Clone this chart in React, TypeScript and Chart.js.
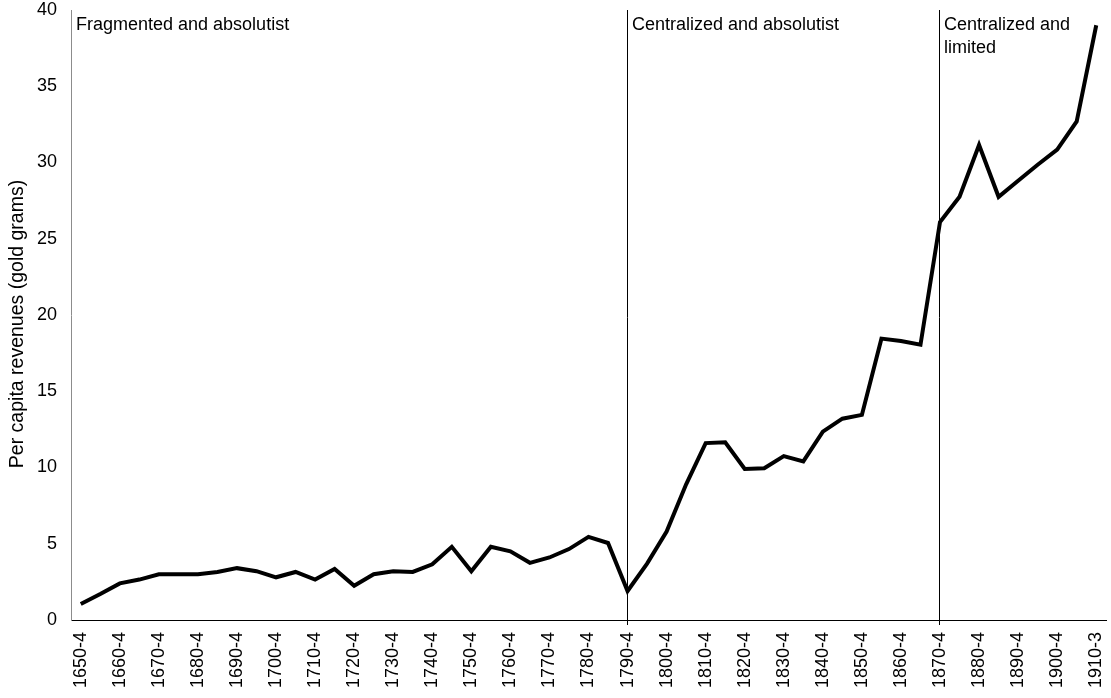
import React, { useEffect, useRef } from "react";
import { Chart, registerables } from "chart.js";

Chart.register(...registerables);

const PERIODS: string[] = [
  "1650-4", "1655-9", "1660-4", "1665-9", "1670-4", "1675-9", "1680-4", "1685-9",
  "1690-4", "1695-9", "1700-4", "1705-9", "1710-4", "1715-9", "1720-4", "1725-9",
  "1730-4", "1735-9", "1740-4", "1745-9", "1750-4", "1755-9", "1760-4", "1765-9",
  "1770-4", "1775-9", "1780-4", "1785-9", "1790-4", "1795-9", "1800-4", "1805-9",
  "1810-4", "1815-9", "1820-4", "1825-9", "1830-4", "1835-9", "1840-4", "1845-9",
  "1850-4", "1855-9", "1860-4", "1865-9", "1870-4", "1875-9", "1880-4", "1885-9",
  "1890-4", "1895-9", "1900-4", "1905-9", "1910-3",
];

const REVENUES: number[] = [
  1.05, 1.7, 2.4, 2.65, 3.0, 3.0, 3.0, 3.15,
  3.4, 3.2, 2.8, 3.15, 2.65, 3.35, 2.25, 3.0,
  3.2, 3.15, 3.65, 4.8, 3.2, 4.8, 4.5, 3.75,
  4.1, 4.65, 5.45, 5.05, 1.9, 3.7, 5.8, 8.9,
  11.6, 11.65, 9.9, 9.95, 10.75, 10.4, 12.35, 13.2,
  13.45, 18.45, 18.3, 18.05, 26.1, 27.75, 31.15, 27.75,
  28.8, 29.85, 30.85, 32.7, 39.0,
];

const REGIME_BREAKS: string[] = ["1790-4", "1870-4"];
const REGIME_NAMES: string[][] = [
  ["Fragmented and absolutist"],
  ["Centralized and absolutist"],
  ["Centralized and", "limited"],
];

const Y_TITLE = "Per capita revenues (gold grams)";
const FONT = "'Liberation Sans', Arial, Helvetica, sans-serif";

const regimePlugin = {
  id: "regimes",
  beforeDatasetsDraw(chart: any) {
    const { ctx, chartArea, scales } = chart;
    ctx.save();
    ctx.strokeStyle = "#000";
    ctx.lineWidth = 1;
    REGIME_BREAKS.forEach((lab) => {
      const idx = PERIODS.indexOf(lab);
      const x = Math.round(scales.x.getPixelForValue(idx)) - 0.5;
      ctx.beginPath();
      ctx.moveTo(x, chartArea.top);
      ctx.lineTo(x, chartArea.bottom + 5);
      ctx.stroke();
    });
    ctx.restore();
  },
  afterDatasetsDraw(chart: any) {
    const { ctx, chartArea, scales } = chart;
    ctx.save();
    ctx.fillStyle = "#000";
    ctx.font = `18px ${FONT}`;
    ctx.textAlign = "left";
    ctx.textBaseline = "alphabetic";
    const starts = [chartArea.left + 5].concat(
      REGIME_BREAKS.map((lab) => Math.round(scales.x.getPixelForValue(PERIODS.indexOf(lab))) + 4)
    );
    REGIME_NAMES.forEach((lines, i) => {
      lines.forEach((t, j) => {
        ctx.fillText(t, starts[i], chartArea.top + 20 + j * 23);
      });
    });
    // y axis title
    ctx.save();
    ctx.translate(18, (chartArea.top + chartArea.bottom) / 2 + 9);
    ctx.rotate(-Math.PI / 2);
    ctx.textAlign = "center";
    ctx.textBaseline = "middle";
    ctx.font = `19.5px ${FONT}`;
    ctx.fillText(Y_TITLE, 0, 0);
    ctx.restore();
    ctx.restore();
  },
};

const zeroPad = (s: any) => {
  s.paddingTop = 0;
  s.paddingBottom = 0;
  s.paddingLeft = 0;
  s.paddingRight = 0;
};

export default function App() {
  const ref = useRef<HTMLCanvasElement | null>(null);

  useEffect(() => {
    if (!ref.current) return;
    const chart = new Chart(ref.current, {
      type: "line",
      data: {
        labels: PERIODS,
        datasets: [
          {
            data: REVENUES,
            borderColor: "#000",
            borderWidth: 4,
            pointRadius: 0,
            pointHoverRadius: 0,
            tension: 0,
            fill: false,
          },
        ],
      },
      options: {
        animation: false,
        responsive: true,
        maintainAspectRatio: false,
        layout: { padding: { top: 10, right: 5, left: 0, bottom: 0 } },
        plugins: {
          legend: { display: false },
          tooltip: { enabled: false },
        },
        scales: {
          x: {
            type: "category",
            offset: true,
            grid: { color: "transparent", drawTicks: false },
            border: { display: true, color: "#000", width: 1 },
            ticks: {
              autoSkip: false,
              minRotation: 90,
              maxRotation: 90,
              padding: 12,
              color: "#000",
              font: { family: FONT, size: 18 },
              callback: (_v: any, i: number) => (i % 2 === 0 ? PERIODS[i] : ""),
            },
            afterFit: (s: any) => {
              s.height = 78;
              zeroPad(s);
            },
          },
          y: {
            min: 0,
            max: 40,
            grid: { color: "transparent", drawTicks: false },
            border: { display: true, color: "#8c8c8c", width: 1 },
            ticks: {
              stepSize: 5,
              padding: 14,
              color: "#000",
              font: { family: FONT, size: 18 },
            },
            afterFit: (s: any) => {
              s.width = 71;
              zeroPad(s);
            },
          },
        },
      },
      plugins: [regimePlugin],
    });
    return () => chart.destroy();
  }, []);

  return (
    <div style={{ position: "fixed", left: 0, top: 0, width: 1111, height: 698, background: "#fff" }}>
      <canvas ref={ref} />
    </div>
  );
}
